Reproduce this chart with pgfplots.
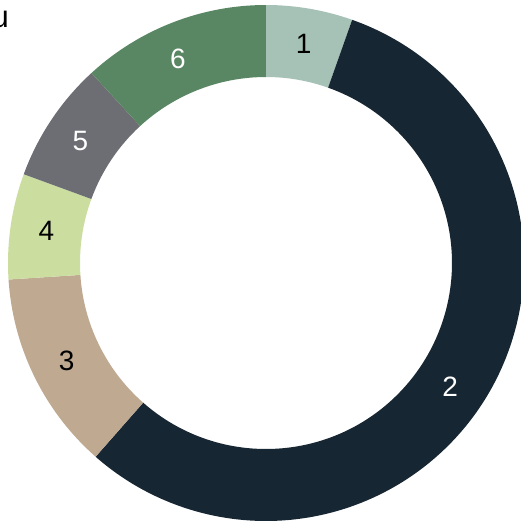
\documentclass[border=0pt]{standalone}
\usepackage{fontspec}
\setmainfont{Liberation Sans}
\usepackage{pgfplots}
\usepackage{pgfplotstable}
\pgfplotsset{compat=1.18}

\definecolor{c1}{HTML}{A6C2B7}
\definecolor{c2}{HTML}{172633}
\definecolor{c3}{HTML}{BFAA91}
\definecolor{c4}{HTML}{CBDEA0}
\definecolor{c5}{HTML}{6D6E73}
\definecolor{c6}{HTML}{5A8763}

% slice values in percent, clockwise from the top; shift nudges the label (deg)
\pgfplotstableread{
label value col tc shift
1 5.42  c1 black 0
2 56.06 c2 white -3.5
3 12.50 c3 black 0
4 6.61  c4 black 0
5 7.58  c5 white 0.5
6 11.83 c6 white 2.1
}\data

\newcommand\lbl{\fontsize{28}{30}\selectfont}

\begin{document}
\begin{tikzpicture}
\useasboundingbox (-266pt,-262pt) rectangle (255pt,263pt);
\clip (-266pt,-262pt) rectangle (255pt,263pt);
\begin{axis}[
	hide axis,
	scale only axis,
	width=516pt, height=516pt,
	xmin=-258, xmax=258,
	ymin=-258, ymax=258,
	at={(0,0)}, anchor=origin,
	clip=false
]
	\def\cum{0}
	\pgfplotsforeachungrouped \i in {0,...,5}{
		\pgfplotstablegetelem{\i}{value}\of\data \let\v\pgfplotsretval
		\pgfplotstablegetelem{\i}{col}\of\data \let\c\pgfplotsretval
		\pgfplotstablegetelem{\i}{tc}\of\data \let\tc\pgfplotsretval
		\pgfplotstablegetelem{\i}{label}\of\data \let\lab\pgfplotsretval
		\pgfplotstablegetelem{\i}{shift}\of\data \let\sh\pgfplotsretval
		\pgfmathsetmacro\a{90-3.6*\cum}
		\pgfmathsetmacro\b{90-3.6*(\cum+\v)}
		\pgfmathsetmacro\m{(\a+\b)/2+\sh}
		\edef\temp{
			\noexpand\fill[\c] (axis cs:{258*cos(\a)},{258*sin(\a)})
				arc[start angle=\a, end angle=\b, radius=258pt]
				-- (axis cs:{186*cos(\b)},{186*sin(\b)})
				arc[start angle=\b, end angle=\a, radius=186pt] -- cycle;
			\noexpand\node[text=\tc, font=\noexpand\lbl]
				at (axis cs:{222*cos(\m)},{222*sin(\m)}) {\lab};
		}
		\temp
		\pgfmathsetmacro\cum{\cum+\v}
	}
\end{axis}
\node[anchor=base east, font=\fontsize{31}{33}\selectfont, inner sep=0pt] at (-257pt,235pt) {u};
\end{tikzpicture}
\end{document}
